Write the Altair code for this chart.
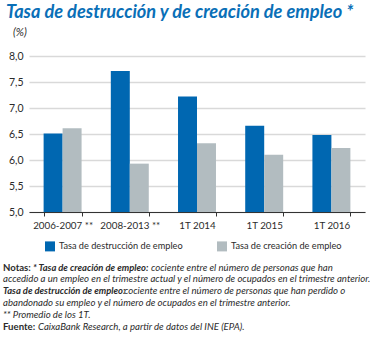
import altair as alt
import pandas as pd

categories = ["2006-2007 **", "2008-2013 **", "1T 2014", "1T 2015", "1T 2016"]
series = ["Tasa de destrucción de empleo", "Tasa de creación de empleo"]
destruccion = [6.51, 7.71, 7.22, 6.66, 6.48]
creacion = [6.61, 5.93, 6.32, 6.10, 6.23]
y_ticks = [5.0, 5.5, 6.0, 6.5, 7.0, 7.5, 8.0]

BLUE = "#0067b1"
GRAY = "#b2bcc0"
TITLE_BLUE = "#0a6fb7"
TXT = "#2b2b2b"
FONT = "Lato"

rows = []
for c, d, cr in zip(categories, destruccion, creacion):
    rows.append({"cat": c, "serie": series[0], "valor": d})
    rows.append({"cat": c, "serie": series[1], "valor": cr})
df = pd.DataFrame(rows)

W, H = 336, 156

bars = alt.Chart(df).mark_bar().encode(
    x=alt.X("cat:N", sort=categories, title=None,
            scale=alt.Scale(paddingInner=0.435, paddingOuter=0.2175),
            axis=alt.Axis(labelAngle=0, labelFont=FONT, labelFontSize=9.8, labelColor=TXT,
                          domainColor="#333333", domainWidth=1, tickColor="#333333",
                          tickSize=4, tickBand="extent", labelPadding=4, grid=False)),
    xOffset=alt.XOffset("serie:N", sort=series),
    y=alt.Y("valor:Q", title=None,
            scale=alt.Scale(domain=[5, 8], zero=False, nice=False),
            axis=alt.Axis(values=y_ticks, labelExpr="replace(format(datum.value, '.1f'), '.', ',')",
                          labelFont=FONT, labelFontSize=10.5, labelColor=TXT,
                          domain=False, ticks=False, labelPadding=6,
                          gridColor="#d9d9d9", gridWidth=1.5)),
    y2=alt.datum(5),
    color=alt.Color("serie:N", sort=series, title=None,
                    scale=alt.Scale(domain=series, range=[BLUE, GRAY]),
                    legend=alt.Legend(orient="none", legendX=16, legendY=185, direction="horizontal",
                                      symbolType="square", symbolSize=100, symbolStrokeWidth=0,
                                      labelFont=FONT, labelFontSize=9.2, labelColor=TXT,
                                      labelOffset=4, columnPadding=34, padding=0)),
)

def txt(s, x, y, size=9.6, weight="normal", style="italic", color=TXT):
    return alt.Chart(pd.DataFrame({"t": [s]})).mark_text(
        align="left", baseline="alphabetic", font=FONT, fontSize=size, fontWeight=weight,
        fontStyle=style, color=color
    ).encode(x=alt.value(x), y=alt.value(y), text="t:N")

ox, oy = 29, 56
layers = [bars]
layers.append(txt("Tasa de destrucción y de creación de empleo *", 6 - ox, 17.5 - oy, size=18.2,
                  weight="bold", style="italic", color=TITLE_BLUE))
layers.append(txt("(%)", 13 - ox, 36 - oy, size=11, style="italic", color=TXT))

notes_y = [270.5, 282.4, 294.3, 306.2, 318.1, 330]
layers.append(txt("Notas:", 3 - ox, notes_y[0] - oy, weight="bold", style="normal"))
layers.append(txt("* Tasa de creación de empleo:", 33 - ox, notes_y[0] - oy, size=9.4, weight="bold"))
layers.append(txt("cociente entre el número de personas que han", 151 - ox, notes_y[0] - oy))
layers.append(txt("accedido a un empleo en el trimestre actual y el número de ocupados en el trimestre anterior.",
                  3 - ox, notes_y[1] - oy))
layers.append(txt("Tasa de destrucción de empleo:", 3 - ox, notes_y[2] - oy, size=9.4, weight="bold"))
layers.append(txt("cociente entre el número de personas que han perdido o", 124 - ox, notes_y[2] - oy))
layers.append(txt("abandonado su empleo y el número de ocupados en el trimestre anterior.", 3 - ox, notes_y[3] - oy))
layers.append(txt("** Promedio de los 1T.", 3 - ox, notes_y[4] - oy))
layers.append(txt("Fuente:", 3 - ox, notes_y[5] - oy, weight="bold", style="normal"))
layers.append(txt("CaixaBank Research, a partir de datos del INE (EPA).", 38 - ox, notes_y[5] - oy))

chart = alt.layer(*layers).properties(
    width=W, height=H,
    autosize=alt.AutoSizeParams(type="none"),
    padding={"left": ox, "top": oy, "right": 373 - ox - W, "bottom": 338 - oy - H},
    background="white",
).configure_view(stroke=None)

chart.save("out.html", embed_options={"renderer": "svg", "actions": False})
